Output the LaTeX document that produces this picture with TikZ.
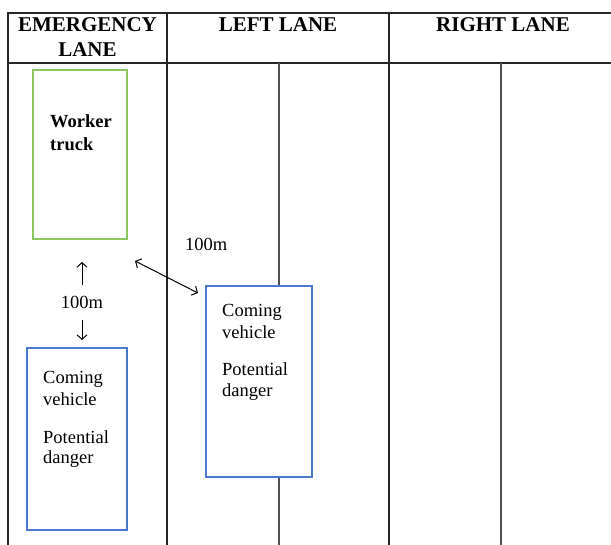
\documentclass[tikz,border=0pt]{standalone}
\usepackage{fontspec}
\setmainfont{Liberation Serif}
\newfontfamily\timesfont{Liberation Serif}
\usetikzlibrary{arrows.meta}
\definecolor{truckgreen}{HTML}{8CC65E}
\definecolor{carblue}{HTML}{4A78CC}
\definecolor{lanegray}{HTML}{505050}
\begin{document}
\begin{tikzpicture}[x=1pt,y=-1pt,
  border/.style={line width=1.3pt,draw=black!85},
  laneline/.style={line width=1.3pt,draw=lanegray},
  head/.style={font=\timesfont\fontsize{21}{25}\selectfont\bfseries,inner sep=0pt,anchor=base},
  body/.style={font=\timesfont\fontsize{18.5}{22}\selectfont,inner sep=0pt,anchor=base west},
  bodyb/.style={font=\timesfont\fontsize{18.5}{22}\selectfont\bfseries,inner sep=0pt,anchor=base west},
  truckbox/.style={draw=truckgreen,line width=1.1pt,fill=white,inner sep=0pt},
  carbox/.style={draw=carblue,line width=1.1pt,fill=white,inner sep=0pt},
  meas/.style={line width=1pt,draw=black,{Straight Barb[length=4.5pt,width=10pt]}-{Straight Barb[length=4.5pt,width=10pt]}},
  measone/.style={line width=1pt,draw=black,-{Straight Barb[length=4.5pt,width=10pt]}}]
\useasboundingbox (0,0) rectangle (611,545);
% table lines
\draw[border] (8,545) -- (8,13) -- (611,13);
\draw[border] (8,63) -- (611,63);
\draw[border] (167,13) -- (167,545);
\draw[border] (389,13) -- (389,545);
\draw[laneline] (279,63) -- (279,545);
\draw[laneline] (501,63) -- (501,545);
% headers
\node[head] (h1) at (87.5,32) {EMERGENCY};
\node[head] (h2) at (87.5,57) {LANE};
\node[head] (h3) at (278,32) {LEFT LANE};
\node[head] (h4) at (503,32) {RIGHT LANE};
% boxes
\node[truckbox,minimum width=94pt,minimum height=169pt] (truck) at (80,154.5) {};
\node[carbox,minimum width=100pt,minimum height=182pt] (car1) at (77,439) {};
\node[carbox,minimum width=106pt,minimum height=191pt] (car2) at (259,381.5) {};
% texts
\node[bodyb] (t1) at (50,128) {Worker};
\node[bodyb] (t2) at (50,151) {truck};
\node[body] (c1a) at (43,384) {Coming};
\node[body] (c1b) at (43,406) {vehicle};
\node[body] (c1c) at (43,443) {Potential};
\node[body] (c1d) at (43,464) {danger};
\node[body] (c2a) at (222,317) {Coming};
\node[body] (c2b) at (222,339) {vehicle};
\node[body] (c2c) at (222,376) {Potential};
\node[body] (c2d) at (222,397) {danger};
\node[body,anchor=base] (d1) at (82,309) {100m};
\node[body] (d2) at (185,251) {100m};
% arrows
\coordinate (ua) at (82,285);
\coordinate (ub) at (82,262);
\coordinate (da) at (82,320);
\coordinate (db) at (82,340);
\coordinate (ga) at (135,261);
\coordinate (gb) at (198,293);
\draw[measone] (ua) -- (ub);
\draw[measone] (da) -- (db);
\draw[meas] (ga) -- (gb);
\end{tikzpicture}
\end{document}
